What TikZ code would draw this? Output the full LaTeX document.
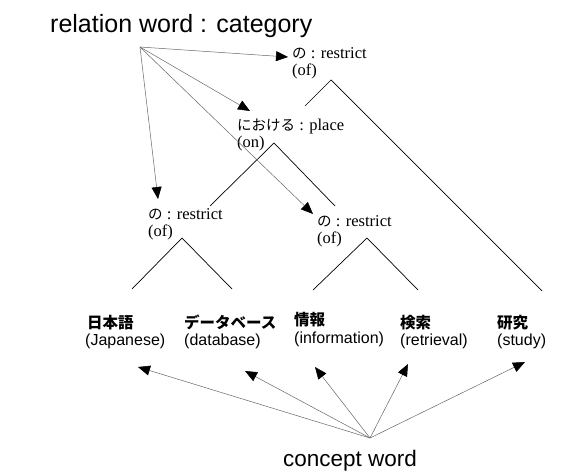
\documentclass[tikz,border=0pt]{standalone}
\usepackage{fontspec}
\setmainfont{Liberation Serif}
\newfontfamily\sansf{Liberation Sans}
\newfontfamily\cjkf{Noto Sans CJK JP}
\usetikzlibrary{arrows.meta}
\begin{document}
\begin{tikzpicture}[x=1pt,y=-1pt,
  txt/.style={inner sep=0pt,anchor=base west},
  rel/.style={txt,text depth=0pt,font=\fontsize{16.5}{16.5}\selectfont},
  con/.style={txt,text depth=0pt,font=\fontsize{15.5}{16}\selectfont\cjkf\bfseries},
  gloss/.style={txt,font=\fontsize{16}{16}\selectfont\sansf},
  big/.style={txt,font=\fontsize{25}{25}\selectfont\sansf},
  ptr/.style={draw=black!60,line width=0.5pt,-{Triangle[length=12pt,width=10pt,color=black]}},
  tree/.style={draw=black,line width=0.7pt}]
\useasboundingbox (0,0) rectangle (576,473);
% title
\node[big] (title) at (50,33) {relation word : category};
\node[big,font=\fontsize{22.5}{22.5}\selectfont\sansf] (cw) at (283,466) {concept word};
% relation nodes
\node[rel] (r1) at (292,59) {{\cjkf\fontsize{14.5}{14.5}\selectfont の} : restrict};
\node[rel] (r1b) at (292,76) {(of)};
\node[rel] (r2) at (237,131) {{\cjkf\fontsize{14.5}{14.5}\selectfont における} : place};
\node[rel] (r2b) at (237,148) {(on)};
\node[rel] (r3) at (148,220) {{\cjkf\fontsize{14.5}{14.5}\selectfont の} : restrict};
\node[rel] (r3b) at (148,237) {(of)};
\node[rel] (r4) at (317,227) {{\cjkf\fontsize{14.5}{14.5}\selectfont の} : restrict};
\node[rel] (r4b) at (317,244) {(of)};
% concept nodes
\node[con] (c1) at (87,328) {日本語};
\node[gloss] (c1b) at (85,345) {(Japanese)};
\node[con] (c2) at (184,328) {データベース};
\node[gloss] (c2b) at (184,345) {(database)};
\node[con] (c3) at (294,326) {情報};
\node[gloss] (c3b) at (294,343) {(information)};
\node[con] (c4) at (400,328) {検索};
\node[gloss] (c4b) at (400,345) {(retrieval)};
\node[con] (c5) at (497,328) {研究};
\node[gloss] (c5b) at (497,345) {(study)};
% tree coordinates
\coordinate (a1) at (331,80);
\coordinate (a1l) at (305,106);
\coordinate (a1r) at (542,291);
\coordinate (a2) at (274,143);
\coordinate (a2l) at (210,206);
\coordinate (a2r) at (335,206);
\coordinate (a3) at (182,238);
\coordinate (a3l) at (132,289);
\coordinate (a3r) at (232,289);
\coordinate (a4) at (367,238);
\coordinate (a4l) at (313,290);
\coordinate (a4r) at (418,290);
\draw[tree] (a1l) -- (a1) -- (a1r);
\draw[tree] (a2l) -- (a2) -- (a2r);
\draw[tree] (a3l) -- (a3) -- (a3r);
\draw[tree] (a4l) -- (a4) -- (a4r);
% relation pointers
\coordinate (rs) at (140,47);
\coordinate (t1) at (288,57);
\coordinate (t2) at (250,111);
\coordinate (t3) at (158,199);
\coordinate (t4) at (313,214);
\draw[ptr] (rs) -- (t1);
\draw[ptr] (rs) -- (t2);
\draw[ptr] (rs) -- (t3);
\draw[ptr] (rs) -- (t4);
% concept pointers
\coordinate (cs) at (370,438);
\coordinate (u1) at (138,367);
\coordinate (u2) at (245,371);
\coordinate (u3) at (315,367);
\coordinate (u4) at (408,364);
\coordinate (u5) at (525,362);
\draw[ptr] (cs) -- (u1);
\draw[ptr] (cs) -- (u2);
\draw[ptr] (cs) -- (u3);
\draw[ptr] (cs) -- (u4);
\draw[ptr] (cs) -- (u5);
\end{tikzpicture}
\end{document}
